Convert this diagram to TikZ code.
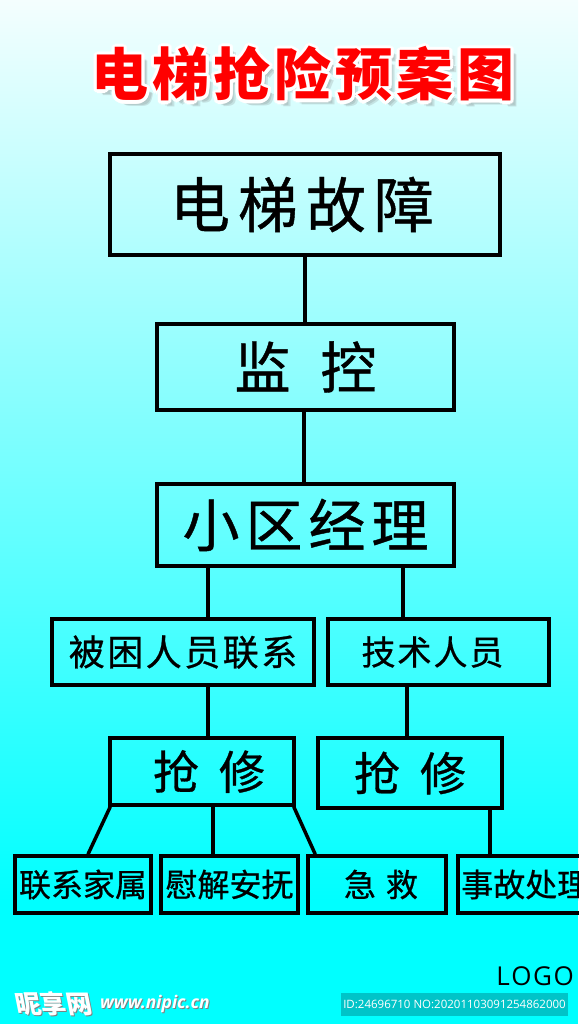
\documentclass[tikz,border=0pt]{standalone}
\usepackage{fontspec}
\newfontfamily\cjk{Noto Sans CJK SC}
\newfontfamily\cjkm{Noto Sans CJK SC}[FakeBold=0.7]
\newfontfamily\logofont{Open Sans}
\usetikzlibrary{calc}
\definecolor{bgtop}{RGB}{244,254,254}
\definecolor{bgmid}{RGB}{128,236,244}
\definecolor{bgbot}{RGB}{0,255,255}
\definecolor{idbox}{RGB}{0,196,200}
\definecolor{titlered}{RGB}{255,0,0}
\newcommand\fs[1]{\fontsize{#1}{#1}\selectfont}
\newcommand\titletxt{\cjk\bfseries\fs{57}电\kern4pt 梯\kern4pt 抢\kern4pt 险\kern4pt 预\kern4pt 案\kern4pt 图}
\tikzset{
  box/.style={draw=black, line width=3.5pt, inner sep=0pt, anchor=center},
  conn/.style={draw=black, line width=3.5pt},
}
\begin{document}
\begin{tikzpicture}[x=1pt,y=-1pt]
\useasboundingbox (0,0) rectangle (578,1024);
\shade[top color=bgtop, middle color=bgmid, bottom color=bgbot] (0,0) rectangle (578,900);
\fill[bgbot] (0,899) rectangle (578,1024);

% title with shadow and white outline
\foreach \k in {1,...,4}{
  \node[text=black!60, opacity=0.18, inner sep=0pt] (ts\k) at (303+1.5*\k,74+1.5*\k) {\titletxt};
}
\foreach \a in {0,30,...,330}{
  \node[text=white, inner sep=0pt] (tw\a) at ($(303,74)+(\a:3.2)$) {\titletxt};
}
\node[text=titlered, inner sep=0pt] (title) at (303,74) {\titletxt};

% boxes
\node[box, minimum width=390pt, minimum height=101pt, font=\cjkm\fs{60}] (b1) at (305,204.5) {\kern-6pt 电\kern8pt 梯\kern8pt 故\kern8pt 障};
\node[box, minimum width=297pt, minimum height=86pt, font=\cjkm\fs{56}] (b2) at (305.5,367) {监\kern30pt 控};
\node[box, minimum width=297pt, minimum height=82pt, font=\cjkm\fs{57}] (b3) at (305.5,525) {小\kern6pt 区\kern6pt 经\kern6pt 理};
\node[box, minimum width=262pt, minimum height=66pt, font=\cjkm\fs{36}] (b4) at (183,652) {被\kern2.5pt 困\kern2.5pt 人\kern2.5pt 员\kern2.5pt 联\kern2.5pt 系};
\node[box, minimum width=221pt, minimum height=66pt, font=\cjkm\fs{34}] (b5) at (438.5,652) {\kern-12pt 技\kern2pt 术\kern2pt 人\kern2pt 员};
\node[box, minimum width=184pt, minimum height=67pt, font=\cjkm\fs{46}] (b6) at (202,771.5) {\kern14pt 抢\kern20pt 修};
\node[box, minimum width=184pt, minimum height=70pt, font=\cjkm\fs{46}] (b7) at (410,773) {抢\kern20pt 修};
\node[box, minimum width=136pt, minimum height=57pt, font=\cjkm\fs{32}] (b8) at (83,884.5) {联系家属};
\node[box, minimum width=137pt, minimum height=57pt, font=\cjkm\fs{32}] (b9) at (229.5,884.5) {慰解安抚};
\node[box, minimum width=138pt, minimum height=57pt, font=\cjkm\fs{32}] (b10) at (377,884.5) {\kern8pt 急\kern10pt 救};
\node[box, minimum width=138pt, minimum height=57pt, font=\cjkm\fs{32}, anchor=west] (b11) at (456,884.5) {\kern3pt 事故处理\kern6pt};

% connectors
\draw[conn] (b1.south) -- (b1.south |- b2.north);
\draw[conn] ([xshift=-1.5pt]b2.south) -- ([xshift=-1.5pt]b2.south |- b3.north);
\draw[conn] ([xshift=-97.5pt]b3.south) -- ([xshift=-97.5pt]b3.south |- b4.north);
\draw[conn] ([xshift=97.5pt]b3.south) -- ([xshift=97.5pt]b3.south |- b5.north);
\draw[conn] ([xshift=25pt]b4.south) -- ([xshift=25pt]b4.south |- b6.north);
\draw[conn] ([xshift=-31.5pt]b5.south) -- ([xshift=-31.5pt]b5.south |- b7.north);
\draw[conn] ([xshift=2pt]b6.south west) -- ([xshift=5pt]b8.north);
\draw[conn] ([xshift=11pt]b6.south) -- ([xshift=11pt]b6.south |- b9.north);
\draw[conn] ([xshift=-2pt]b6.south east) -- ([xshift=9pt]b10.north west);
\draw[conn] ([xshift=80pt]b7.south) -- ([xshift=80pt]b7.south |- b11.north);

% logo and watermark
\node[inner sep=0pt, anchor=east, font=\logofont\fs{26}] (logo) at (574,976) {L\kern1.5pt O\kern1.5pt G\kern1.5pt O};
\fill[idbox] (341,993) rectangle (568,1016);
\node[inner sep=0pt, text=white, font=\logofont\fs{11.5}] (idtxt) at (454.5,1004.5) {ID:24696710 NO:20201103091254862000};
\node[inner sep=0pt, anchor=west, text=black!50, font=\cjk\bfseries\fs{25.5}, xslant=-0.2] (wm1s) at (16,1005) {昵享网};
\node[inner sep=0pt, anchor=west, text=white, font=\cjk\bfseries\fs{25.5}, xslant=-0.2] (wm1) at (15,1004) {昵享网};
\node[inner sep=0pt, anchor=west, text=black!50, font=\logofont\bfseries\itshape\fs{17.5}] (wm2s) at (101,1005) {www.nipic.cn};
\node[inner sep=0pt, anchor=west, text=white, font=\logofont\bfseries\itshape\fs{17.5}] (wm2) at (100,1004) {www.nipic.cn};
\end{tikzpicture}
\end{document}
